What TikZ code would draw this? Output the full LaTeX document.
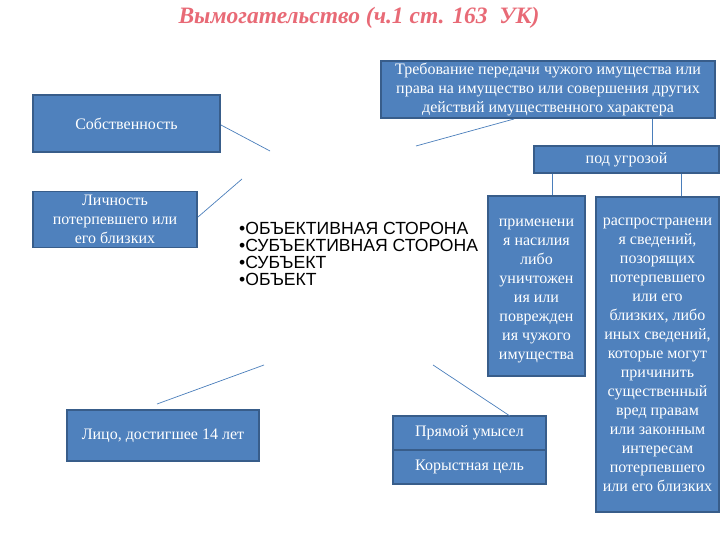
\documentclass[tikz,border=0pt]{standalone}
\usepackage{fontspec}
\setmainfont{Liberation Serif}
\newfontfamily\arialf{Liberation Sans}
\definecolor{boxfill}{RGB}{79,129,189}
\definecolor{boxline}{RGB}{56,93,138}
\definecolor{conn}{RGB}{74,126,187}
\definecolor{titlecol}{RGB}{232,106,118}
\begin{document}
\begin{tikzpicture}[x=1pt,y=-1pt,
  bx/.style={draw=boxline, line width=1.2pt, fill=boxfill, text=white, inner sep=0pt, align=center,
    font=\fontsize{16}{19}\selectfont},
  bt/.style={text=white, inner sep=0pt, align=center, font=\fontsize{16}{19}\selectfont},
  cn/.style={draw=conn, line width=0.7pt}]
\useasboundingbox (0,0) rectangle (720,540);
\node[font=\fontsize{23.5}{26}\bfseries\itshape\selectfont, text=titlecol] (title) at (359,18) {Вымогательство (ч.1 ст. 163~ УК)};

\node[bx, minimum width=187pt, minimum height=57pt] (sob) at (126.5,123.5) {Собственность};
\node[bx, minimum width=164pt, minimum height=56pt] (lich) at (115,219.5) {Личность\\потерпевшего или\\его близких};
\node[bx, minimum width=334pt, minimum height=57pt] (treb) at (548,89.5) {Требование передачи чужого имущества или\\права на имущество или совершения других\\действий имущественного характера};
\node[bx, minimum width=185pt, minimum height=27pt] (ugroz) at (626.5,159.5) {под угрозой};
\node[bx, minimum width=97pt, minimum height=180pt] (prim) at (536.5,286) {};
\node[bt, anchor=north] (primtext) at (536.5,219) {применени\\я насилия\\либо\\уничтожен\\ия или\\поврежден\\ия чужого\\имущества};
\node[bx, minimum width=123pt, minimum height=315pt] (rasp) at (657.5,354.5) {распространени\\я сведений,\\позорящих\\потерпевшего\\или его\\близких, либо\\иных сведений,\\которые могут\\причинить\\существенный\\вред правам\\или законным\\интересам\\потерпевшего\\или его близких};
\node[bx, minimum width=192pt, minimum height=51pt] (lico) at (163,435.5) {Лицо, достигшее 14 лет};
\node[bx, minimum width=153pt, minimum height=34pt] (pryam) at (469.5,433) {Прямой умысел};
\node[bx, minimum width=153pt, minimum height=34pt] (kor) at (469.5,467) {Корыстная цель};

\node[anchor=north west, align=left, inner sep=0pt, font=\arialf\fontsize{17.6}{17}\selectfont] (list) at (239,222)
  {•ОБЪЕКТИВНАЯ СТОРОНА\\•СУБЪЕКТИВНАЯ СТОРОНА\\•СУБЪЕКТ\\•ОБЪЕКТ};

\coordinate (c1) at (270,151);
\coordinate (c2) at (242,179);
\coordinate (c3) at (416,146);
\coordinate (c4) at (264,365);
\coordinate (c5) at (433,365);
\coordinate (s1) at (221,125);
\coordinate (l1) at (198,217);
\coordinate (t1) at (514,119);
\coordinate (o1) at (157,404);
\coordinate (p1) at (510,416);

\draw[cn] (s1) -- (c1);
\draw[cn] (l1) -- (c2);
\draw[cn] (t1) -- (c3);
\draw[cn] (o1) -- (c4);
\draw[cn] (p1) -- (c5);
\draw[cn] ([xshift=25.5pt]ugroz.north |- treb.south) -- ([xshift=25.5pt]ugroz.north);
\draw[cn] ([xshift=15.5pt]prim.north |- ugroz.south) -- ([xshift=15.5pt]prim.north);
\draw[cn] ([xshift=23.5pt]rasp.north) -- ([xshift=23.5pt]rasp.north |- ugroz.south);
\end{tikzpicture}
\end{document}
